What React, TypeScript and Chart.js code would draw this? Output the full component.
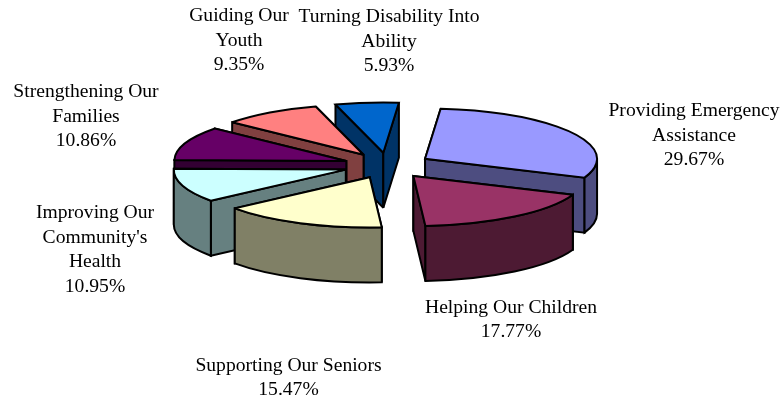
import React, { useEffect, useRef } from "react";
import { Chart, registerables } from "chart.js";

Chart.register(...registerables);

const categories = [
  ["Providing Emergency", "Assistance"],
  ["Helping Our Children"],
  ["Supporting Our Seniors"],
  ["Improving Our", "Community's", "Health"],
  ["Strengthening Our", "Families"],
  ["Guiding Our", "Youth"],
  ["Turning Disability Into", "Ability"],
];
const shares = [29.67, 17.77, 15.47, 10.95, 10.86, 9.35, 5.93];
const topColors = ["#9999FF", "#993366", "#FFFFCC", "#CCFFFF", "#660066", "#FF8080", "#0066CC"];
const sideColors = ["#4D4D80", "#4D1A33", "#808066", "#668080", "#330033", "#804040", "#003366"];

// Centre of each label block and the middle of its first line.
const labelAnchors = [
  [694, 111],
  [511, 307.5],
  [288.5, 365.5],
  [95, 213],
  [86, 92],
  [239, 16],
  [389, 17],
];

const FLATTEN = 0.292;
const EXPLODE = 44;
const DEPTH = 55;
const LABEL_FONT = '19.6px "Liberation Serif"';
const LINE_STEP = 24.6;

// Draws each arc as an exploded, extruded wedge seen from above.
const extrudedPie = {
  id: "extrudedPie",
  beforeDatasetsDraw(chart: any) {
    const ctx = chart.ctx;
    const arcs = chart.getDatasetMeta(0).data;
    const order = arcs
      .map((arc: any, index: number) => ({ arc, index, mid: (arc.startAngle + arc.endAngle) / 2 }))
      .sort((a: any, b: any) => Math.sin(a.mid) - Math.sin(b.mid));

    ctx.save();
    ctx.lineWidth = 2;
    ctx.lineJoin = "miter";
    ctx.miterLimit = 2.5;
    ctx.strokeStyle = "#000";
    for (const { arc, index, mid } of order) {
      const rx = arc.outerRadius;
      const ry = rx * FLATTEN;
      const cx = arc.x + Math.cos(mid) * EXPLODE;
      const cy = arc.y + Math.sin(mid) * EXPLODE * FLATTEN;
      const a0 = arc.startAngle;
      const a1 = arc.endAngle;
      const rim = (a: number) => [cx + Math.cos(a) * rx, cy + Math.sin(a) * ry];
      const paint = (fill: string) => {
        ctx.fillStyle = fill;
        ctx.fill();
        ctx.stroke();
      };
      const cutFace = (a: number) => {
        const [px, py] = rim(a);
        ctx.beginPath();
        ctx.moveTo(cx, cy);
        ctx.lineTo(px, py);
        ctx.lineTo(px, py + DEPTH);
        ctx.lineTo(cx, cy + DEPTH);
        ctx.closePath();
        paint(sideColors[index]);
      };
      // Wedge walls: those turned away first, those facing the viewer after.
      const startFaces = Math.cos(a0) < 0;
      const endFaces = Math.cos(a1) > 0;
      if (!startFaces) cutFace(a0);
      if (!endFaces) cutFace(a1);
      if (startFaces) cutFace(a0);
      if (endFaces) cutFace(a1);

      // Curved wall: the part of the rim on the near half of the ellipse.
      for (const shift of [-2 * Math.PI, 0, 2 * Math.PI]) {
        const from = Math.max(a0, shift);
        const to = Math.min(a1, shift + Math.PI);
        if (to > from) {
          ctx.beginPath();
          ctx.ellipse(cx, cy, rx, ry, 0, from, to);
          ctx.ellipse(cx, cy + DEPTH, rx, ry, 0, to, from, true);
          ctx.closePath();
          paint(sideColors[index]);
        }
      }

      ctx.beginPath();
      ctx.moveTo(cx, cy);
      ctx.ellipse(cx, cy, rx, ry, 0, a0, a1);
      ctx.closePath();
      paint(arc.options.backgroundColor);
    }
    ctx.restore();
    return false;
  },
  afterDraw(chart: any) {
    const ctx = chart.ctx;
    ctx.save();
    ctx.font = LABEL_FONT;
    ctx.fillStyle = "#000";
    ctx.textAlign = "center";
    ctx.textBaseline = "middle";
    categories.forEach((lines, i) => {
      const [x, y] = labelAnchors[i];
      [...lines, shares[i].toFixed(2) + "%"].forEach((line, n) => {
        ctx.fillText(line, x, y + n * LINE_STEP);
      });
    });
    ctx.restore();
  },
};

export default function App() {
  const canvasRef = useRef<HTMLCanvasElement>(null);
  useEffect(() => {
    const chart = new Chart(canvasRef.current!, {
      type: "pie",
      data: {
        labels: categories.map((lines) => lines.join(" ")),
        datasets: [{ data: shares, backgroundColor: topColors, borderWidth: 0 }],
      },
      options: {
        animation: false,
        responsive: false,
        rotation: 5.2,
        radius: 172,
        layout: { padding: { right: 7, bottom: 73 } },
        plugins: { legend: { display: false }, tooltip: { enabled: false } },
      },
      plugins: [extrudedPie],
    } as any);
    return () => chart.destroy();
  }, []);
  return (
    <canvas
      ref={canvasRef}
      width={782}
      height={404}
      style={{ position: "fixed", left: 0, top: 0, width: 782, height: 404, background: "#fff" }}
    />
  );
}
